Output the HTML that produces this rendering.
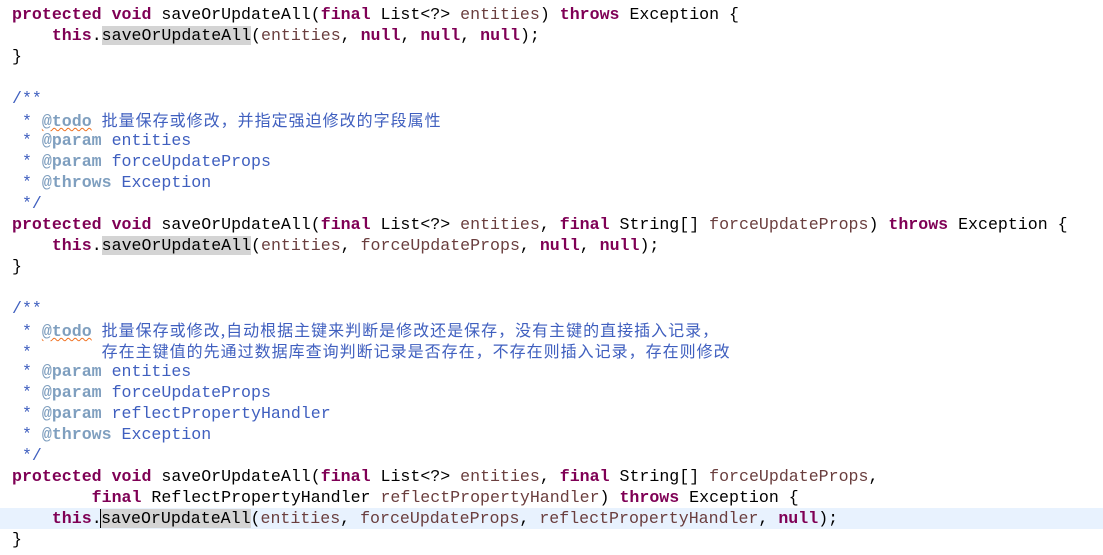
<!DOCTYPE html>
<html><head><meta charset="utf-8"><style>
html,body{margin:0;padding:0;background:#fff;width:1103px;height:555px;overflow:hidden}
.l{position:absolute;left:12px;height:21px;line-height:21px;white-space:pre;font-family:"Liberation Mono","Noto Sans CJK SC",monospace;font-size:16.6px;color:#000}
.k{color:#7F0055;font-weight:bold}
.v{color:#6A3E3E}
.c{color:#3F5FBF}
.t{color:#7F9FBF;font-weight:bold}
.u{text-decoration:underline wavy #f07020;text-decoration-thickness:1px}
.h{background:#D4D4D4}
.cj{font-family:"Noto Sans CJK SC",sans-serif;font-size:16px;letter-spacing:1.0px}
.cur{position:absolute;left:0;top:508px;width:1103px;height:21px;background:#E8F2FE}
</style></head><body>
<div class="cur"></div>
<div class="l" style="top:4px"><span class="k">protected</span> <span class="k">void</span> saveOrUpdateAll(<span class="k">final</span> List&lt;?&gt; <span class="v">entities</span>) <span class="k">throws</span> Exception {</div>
<div class="l" style="top:25px">    <span class="k">this</span>.<span class="h">saveOrUpdateAll</span>(<span class="v">entities</span>, <span class="k">null</span>, <span class="k">null</span>, <span class="k">null</span>);</div>
<div class="l" style="top:46px">}</div>
<div class="l c" style="top:88px">/**</div>
<div class="l c" style="top:109px"> * <span class="t u">@todo</span> <span class="cj">批量保存或修改，并指定强迫修改的字段属性</span></div>
<div class="l c" style="top:130px"> * <span class="t">@param</span> entities</div>
<div class="l c" style="top:151px"> * <span class="t">@param</span> forceUpdateProps</div>
<div class="l c" style="top:172px"> * <span class="t">@throws</span> Exception</div>
<div class="l c" style="top:193px"> */</div>
<div class="l" style="top:214px"><span class="k">protected</span> <span class="k">void</span> saveOrUpdateAll(<span class="k">final</span> List&lt;?&gt; <span class="v">entities</span>, <span class="k">final</span> String[] <span class="v">forceUpdateProps</span>) <span class="k">throws</span> Exception {</div>
<div class="l" style="top:235px">    <span class="k">this</span>.<span class="h">saveOrUpdateAll</span>(<span class="v">entities</span>, <span class="v">forceUpdateProps</span>, <span class="k">null</span>, <span class="k">null</span>);</div>
<div class="l" style="top:256px">}</div>
<div class="l c" style="top:298px">/**</div>
<div class="l c" style="top:319px"> * <span class="t u">@todo</span> <span class="cj">批量保存或修改,自动根据主键来判断是修改还是保存，没有主键的直接插入记录，</span></div>
<div class="l c" style="top:340px"> *       <span class="cj">存在主键值的先通过数据库查询判断记录是否存在，不存在则插入记录，存在则修改</span></div>
<div class="l c" style="top:361px"> * <span class="t">@param</span> entities</div>
<div class="l c" style="top:382px"> * <span class="t">@param</span> forceUpdateProps</div>
<div class="l c" style="top:403px"> * <span class="t">@param</span> reflectPropertyHandler</div>
<div class="l c" style="top:424px"> * <span class="t">@throws</span> Exception</div>
<div class="l c" style="top:445px"> */</div>
<div class="l" style="top:466px"><span class="k">protected</span> <span class="k">void</span> saveOrUpdateAll(<span class="k">final</span> List&lt;?&gt; <span class="v">entities</span>, <span class="k">final</span> String[] <span class="v">forceUpdateProps</span>,</div>
<div class="l" style="top:487px">        <span class="k">final</span> ReflectPropertyHandler <span class="v">reflectPropertyHandler</span>) <span class="k">throws</span> Exception {</div>
<div class="l" style="top:508px">    <span class="k">this</span>.<span class="h" style="border-left:1.5px solid #000;margin-left:-1.5px">saveOrUpdateAll</span>(<span class="v">entities</span>, <span class="v">forceUpdateProps</span>, <span class="v">reflectPropertyHandler</span>, <span class="k">null</span>);</div>
<div class="l" style="top:529px">}</div>
</body></html>
